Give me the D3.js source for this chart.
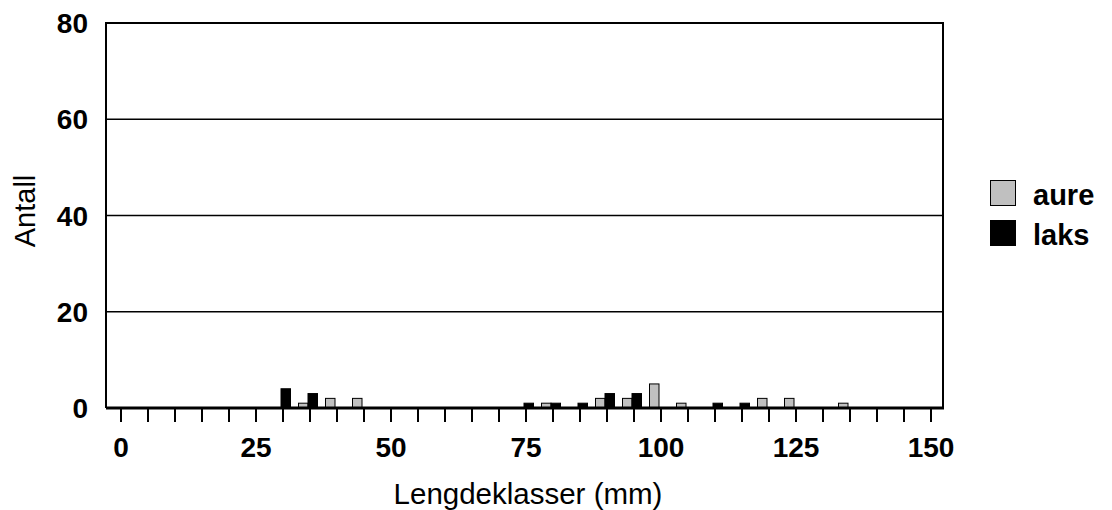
<!DOCTYPE html>
<html>
<head>
<meta charset="utf-8">
<script src="https://cdn.jsdelivr.net/npm/d3@7"></script>
<style>
  html, body { margin: 0; padding: 0; background: #fff; }
  svg { display: block; }
  text { font-family: "Liberation Sans", Arial, sans-serif; fill: #000; }
</style>
</head>
<body>
<svg id="chart" width="1112" height="510"></svg>
<script>
// ---- data ----
const classes = [30, 35, 40, 45, 75, 80, 85, 90, 95, 100, 105, 110, 115, 120, 125, 135];
const aure    = [0, 1, 2, 2, 0, 1, 0, 2, 2, 5, 1, 0, 0, 2, 2, 1];
const laks    = [4, 3, 0, 0, 1, 1, 1, 3, 3, 0, 0, 1, 1, 0, 0, 0];
const seriesNames = ["aure", "laks"];
const xTickValues = d3.range(0, 151, 5);
const xLabelValues = [0, 25, 50, 75, 100, 125, 150];
const yTickValues = [0, 20, 40, 60, 80];
const xTitle = "Lengdeklasser (mm)";
const yTitle = "Antall";

// ---- layout ----
const svg = d3.select("#chart");
const plot = { left: 106, right: 943, top: 23, bottom: 408 };
const x = d3.scaleLinear().domain([0, 150]).range([121, 931]);
const y = d3.scaleLinear().domain([0, 80]).range([plot.bottom, plot.top]);
const colors = { aure: "#c0c0c0", laks: "#000000" };
const barW = 9.5, centerShift = -2;

// gridlines
svg.append("g").selectAll("line").data(yTickValues.filter(v => v > 0 && v < 80)).join("line")
  .attr("x1", plot.left).attr("x2", plot.right)
  .attr("y1", d => y(d)).attr("y2", d => y(d))
  .attr("stroke", "#000").attr("stroke-width", 1.5);

// frame (left, top, right)
svg.append("path")
  .attr("d", `M${plot.left},${plot.bottom}V${plot.top}H${plot.right}V${plot.bottom}`)
  .attr("fill", "none").attr("stroke", "#000").attr("stroke-width", 2);

// bars
const rows = classes.map((c, i) => ({ c, aure: aure[i], laks: laks[i] }));
const gBars = svg.append("g");
gBars.selectAll("rect.aure").data(rows.filter(d => d.aure > 0)).join("rect")
  .attr("class", "aure")
  .attr("x", d => x(d.c) + centerShift - barW)
  .attr("y", d => y(d.aure))
  .attr("width", barW)
  .attr("height", d => y(0) - y(d.aure))
  .attr("fill", colors.aure).attr("stroke", "#000").attr("stroke-width", 1);
gBars.selectAll("rect.laks").data(rows.filter(d => d.laks > 0)).join("rect")
  .attr("class", "laks")
  .attr("x", d => x(d.c) + centerShift)
  .attr("y", d => y(d.laks))
  .attr("width", barW)
  .attr("height", d => y(0) - y(d.laks))
  .attr("fill", colors.laks).attr("stroke", "#000").attr("stroke-width", 1);

// x axis line
svg.append("line")
  .attr("x1", plot.left).attr("x2", plot.right + 1)
  .attr("y1", plot.bottom).attr("y2", plot.bottom)
  .attr("stroke", "#000").attr("stroke-width", 3);

// x ticks
svg.append("g").selectAll("line").data(xTickValues).join("line")
  .attr("x1", d => x(d)).attr("x2", d => x(d))
  .attr("y1", plot.bottom).attr("y2", plot.bottom + 14)
  .attr("stroke", "#000").attr("stroke-width", 2);

// x labels
svg.append("g").selectAll("text").data(xLabelValues).join("text")
  .attr("x", d => x(d)).attr("y", 457)
  .attr("text-anchor", "middle")
  .style("font-size", "28px").style("font-weight", "bold")
  .text(d => d);

// y labels
svg.append("g").selectAll("text").data(yTickValues).join("text")
  .attr("x", 88).attr("y", d => y(d) + 10)
  .attr("text-anchor", "end")
  .style("font-size", "28px").style("font-weight", "bold")
  .text(d => d);

// titles
svg.append("text")
  .attr("x", 528).attr("y", 504)
  .attr("text-anchor", "middle")
  .style("font-size", "29.5px")
  .text(xTitle);
svg.append("text")
  .attr("transform", "translate(35,211) rotate(-90)")
  .attr("text-anchor", "middle")
  .style("font-size", "29px")
  .text(yTitle);

// legend
const leg = svg.append("g").selectAll("g").data(seriesNames).join("g")
  .attr("transform", (d, i) => `translate(990,${180 + i * 40})`);
leg.append("rect")
  .attr("x", 0.5).attr("y", 0.5).attr("width", 25).attr("height", 25)
  .attr("fill", d => colors[d]).attr("stroke", "#000").attr("stroke-width", 1);
leg.append("text")
  .attr("x", 43).attr("y", 25)
  .style("font-size", "29px").style("font-weight", "bold")
  .text(d => d);
</script>
</body>
</html>
